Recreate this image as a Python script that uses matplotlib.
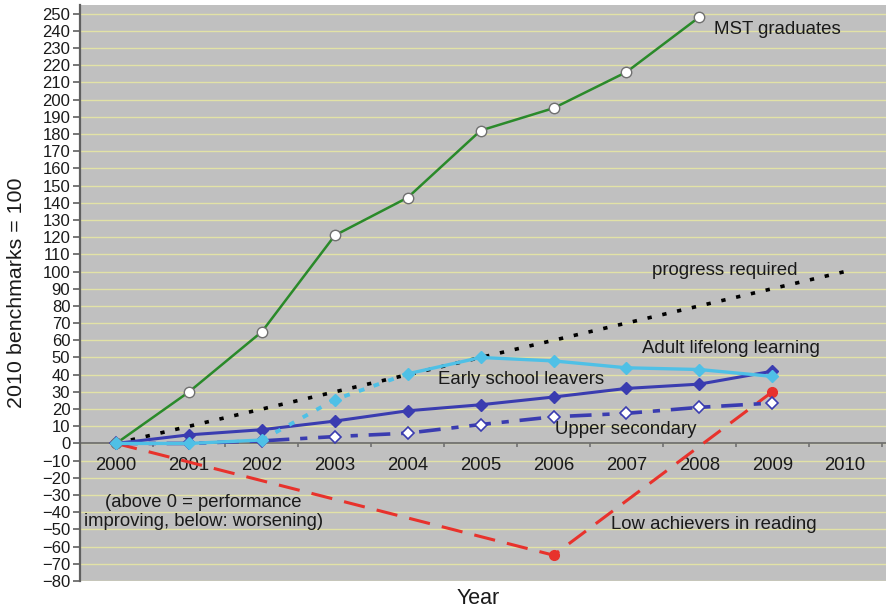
import matplotlib
matplotlib.use("Agg")
import matplotlib.pyplot as plt
import numpy as np

plt.rcParams['font.family'] = ['Liberation Sans', 'DejaVu Sans']

years = [2000, 2001, 2002, 2003, 2004, 2005, 2006, 2007, 2008, 2009, 2010]

mst_years = [2000, 2001, 2002, 2003, 2004, 2005, 2006, 2007, 2008]
mst_values = [0, 30, 65, 121, 143, 182, 195, 216, 248]

progress_years = [2000, 2010]
progress_values = [0, 100]

adult_years = [2000, 2001, 2002, 2003, 2004, 2005, 2006, 2007, 2008, 2009]
adult_values = [0, 5, 8, 13, 19, 22.5, 27, 32, 34.5, 42]

esl_years = [2000, 2001, 2002, 2003, 2004, 2005, 2006, 2007, 2008, 2009]
esl_values = [0, 0, 2, 25.5, 40.5, 50, 48, 44, 43, 39]

upper_years = [2000, 2001, 2002, 2003, 2004, 2005, 2006, 2007, 2008, 2009]
upper_values = [0, 0, 1.5, 4, 6, 11, 15.5, 17.5, 21, 23.5]

low_years = [2000, 2006, 2009]
low_values = [0, -65, 30]

yticks = list(range(-80, 251, 10))

fig = plt.figure(figsize=(8.86, 6.12), dpi=100)
ax = fig.add_axes([80 / 886, 31 / 612, 806 / 886, 576 / 612])
ax.set_facecolor('#c0c0c0')
ax.set_xlim(1999.505, 2010.56)
ax.set_ylim(-80, 255)

for y in yticks:
    ax.axhline(y, color='#e2e2a6', lw=1.0, zorder=0)

# x axis drawn at zero
ax.axhline(0, color='#707070', lw=1.3, zorder=1)
for b in np.arange(2000.5, 2010.6, 1.0):
    ax.plot([b, b], [0, -1.8], color='#707070', lw=1.2, zorder=1, solid_capstyle='butt')

for s in ['top', 'right', 'bottom']:
    ax.spines[s].set_visible(False)
ax.spines['left'].set_color('#606060')
ax.spines['left'].set_linewidth(1.6)

ax.set_yticks(yticks)
ax.set_yticklabels([f"{v}".replace('-', '\u2212') for v in yticks], fontsize=12, color='#1a1a1a')
ax.tick_params(axis='y', length=5, width=1.2, color='#606060', pad=2)
ax.set_xticks([])
for yr in years:
    ax.text(yr, -12.9, str(yr), ha='center', va='center', fontsize=13.3, color='#1a1a1a')

# progress required (linear path to the 2010 benchmark)
ax.plot(progress_years, progress_values, color='black', lw=2.6,
        linestyle=(0, (1.2, 3.0)), zorder=3)

# low achievers in reading
ax.plot(low_years, low_values, color='#e8322c', lw=2.2, linestyle=(0, (7, 4)),
        marker='o', ms=7, markerfacecolor='#e8322c', markeredgecolor='#e8322c', zorder=4)

# upper secondary
ax.plot(upper_years, upper_values, color='#3a3cb0', lw=2.6, linestyle=(0, (6, 3, 2, 3)),
        marker='D', ms=6.5, markerfacecolor='white', markeredgecolor='#3a3cb0',
        markeredgewidth=1.2, zorder=5)

# adult lifelong learning
ax.plot(adult_years, adult_values, color='#3a3cb0', lw=2.2,
        marker='D', ms=6.5, markerfacecolor='#3a3cb0', markeredgecolor='#3a3cb0', zorder=6)

# MST graduates
ax.plot(mst_years, mst_values, color='#2a8a2a', lw=1.8,
        marker='o', ms=7.5, markerfacecolor='white', markeredgecolor='#707070',
        markeredgewidth=1.0, zorder=7)

# early school leavers: solid, dotted across the 2002-2004 break
esl_color = '#4fc0e6'
ax.plot(esl_years[:3], esl_values[:3], color=esl_color, lw=2.4, zorder=8)
ax.plot(esl_years[2:5], esl_values[2:5], color=esl_color, lw=2.8,
        linestyle=(0, (1.5, 2.5)), zorder=8)
ax.plot(esl_years[4:], esl_values[4:], color=esl_color, lw=2.4, zorder=8)
ax.plot(esl_years, esl_values, linestyle='none', marker='D', ms=6.5,
        markerfacecolor=esl_color, markeredgecolor=esl_color, zorder=9)

lab = dict(fontsize=13.4, color='#1a1a1a', va='center', ha='left')
ax.text(2008.2, 240.7, 'MST graduates', **lab)
ax.text(2007.35, 100.4, 'progress required', **lab)
ax.text(2007.21, 55, 'Adult lifelong learning', **lab)
ax.text(2004.41, 37, 'Early school leavers', **lab)
ax.text(2006.02, 7.9, 'Upper secondary', **lab)
ax.text(2006.79, -47.4, 'Low achievers in reading', **lab)
ax.text(2001.2, -39.9, '(above 0 = performance\nimproving, below: worsening)',
        fontsize=13.3, color='#1a1a1a', ha='center', va='center', linespacing=1.2)

fig.text(17 / 886, 1 - 293 / 612, '2010 benchmarks = 100', rotation=90,
         ha='center', va='center', fontsize=15.4, color='#1a1a1a')
fig.text(478 / 886, 1 - 599 / 612, 'Year', ha='center', va='center',
         fontsize=15.5, color='#1a1a1a')

fig.savefig('out.png', dpi=100)
